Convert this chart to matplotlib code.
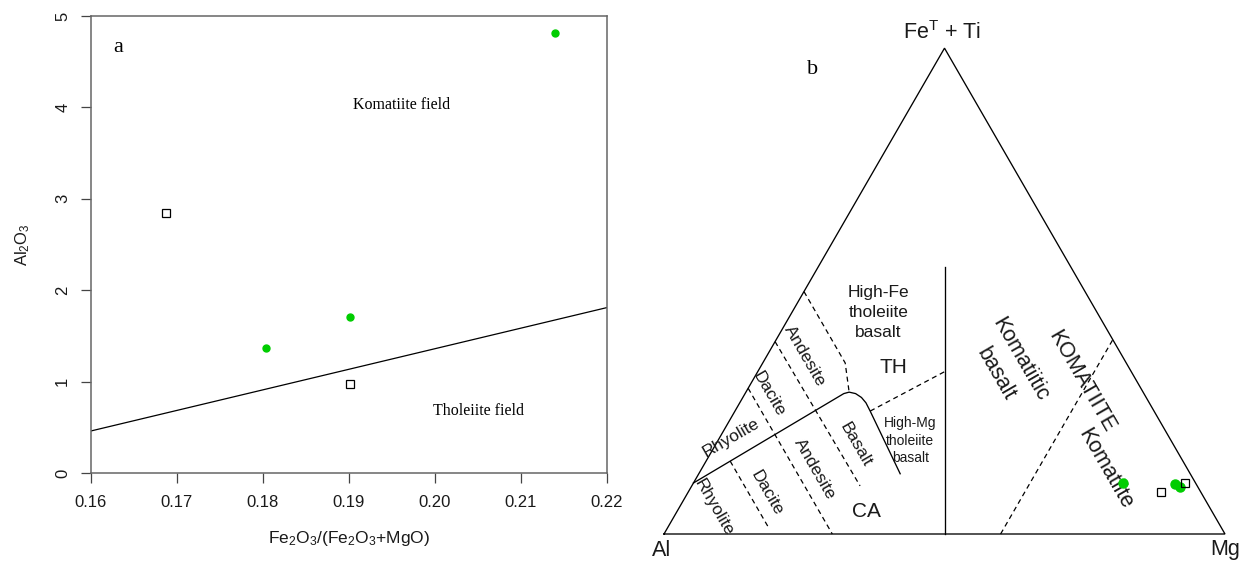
import numpy as np
import matplotlib
matplotlib.use("Agg")
import matplotlib.pyplot as plt

plt.rcParams['font.family'] = ['Liberation Sans', 'DejaVu Sans']
plt.rcParams['mathtext.fontset'] = 'custom'
plt.rcParams['mathtext.rm'] = 'Liberation Sans'
plt.rcParams['mathtext.it'] = 'Liberation Sans:italic'
plt.rcParams['mathtext.bf'] = 'Liberation Sans:bold'

SERIF = ['Liberation Serif', 'DejaVu Serif']
GREEN = '#00CD00'

# ---------------- panel a: Al2O3 vs Fe2O3/(Fe2O3+MgO) ----------------
komatiite_ratio = [0.2140, 0.1804, 0.1901]
komatiite_al2o3 = [4.81, 1.37, 1.71]
basalt_ratio = [0.1687, 0.1901]
basalt_al2o3 = [2.85, 0.97]
divider_ratio = [0.16, 0.22]
divider_al2o3 = [0.46, 1.81]
x_ticks = [0.16, 0.17, 0.18, 0.19, 0.20, 0.21, 0.22]
x_tick_labels = ['0.16', '0.17', '0.18', '0.19', '0.20', '0.21', '0.22']
y_ticks = [0, 1, 2, 3, 4, 5]

# ---------------- panel b: Jensen cation plot, (Al, FeT+Ti, Mg) % ----------------
komatiite_al = [13.0, 3.7, 3.2]
komatiite_fe = [10.5, 10.3, 9.7]
komatiite_mg = [76.5, 86.0, 87.1]
basalt_al = [7.0, 1.9]
basalt_fe = [8.7, 10.5]
basalt_mg = [84.3, 87.6]

# field boundaries as (Al, Fe, Mg) vertices
th_ca_line = [(89.5, 10.5, 0.0), (53.5, 28.9, 17.6), (52.4, 29.2, 18.4),
              (51.4, 28.9, 19.7), (50.75, 28.1, 21.15), (50.5, 27.0, 22.5),
              (50.6, 25.3, 24.1), (51.7, 12.4, 35.9)]
al_mg_line = [(50.0, 0.0, 50.0), (22.5, 55.0, 22.5)]
dashed_lines = [
    [(50.1, 49.9, 0.0), (50.1, 35.2, 14.7), (52.4, 29.2, 18.4)],
    [(60.4, 39.6, 0.0), (60.1, 9.9, 30.0)],
    [(70.0, 30.0, 0.0), (70.0, 0.0, 30.0)],
    [(80.7, 15.0, 4.3), (80.7, 1.0, 18.3)],
    [(50.6, 25.3, 24.1), (33.3, 33.4, 33.3)],
    [(40.0, 0.0, 60.0), (0.0, 40.0, 60.0)],
]

# field names: (text, (Al, Fe, Mg), rotation, size, line spacing)
field_names = [
    ('High-Fe\ntholeiite\nbasalt', (39.0, 45.6, 15.4), 0, 12.5, 1.45),
    ('TH', (41.9, 34.3, 23.8), 0, 15, 1.2),
    ('High-Mg\ntholeiite\nbasalt', (46.5, 19.2, 34.3), 0, 10, 1.3),
    ('CA', (61.5, 4.7, 33.8), 0, 15, 1.2),
    ('Andesite', (56.6, 36.6, 6.8), -60, 12.5, 1.2),
    ('Dacite', (66.9, 28.7, 4.4), -60, 12.5, 1.2),
    ('Rhyolite', (78.3, 19.8, 2.0), 30, 12.5, 1.2),
    ('Basalt', (56.7, 18.4, 24.9), -60, 12.5, 1.2),
    ('Andesite', (66.4, 13.3, 20.3), -60, 12.5, 1.2),
    ('Dacite', (77.4, 8.5, 14.1), -60, 12.5, 1.2),
    ('Rhyolite', (88.4, 5.4, 6.2), -60, 12.5, 1.2),
    ('Komatiitic\nbasalt', (21.4, 34.5, 44.1), -60, 15.5, 1.5),
    ('KOMATIITE', (10.0, 31.3, 58.7), -60, 15.5, 1.2),
    ('Komatiite', (14.6, 13.3, 72.1), -60, 15.5, 1.2),
]


def tern(al, fe, mg):
    al = np.asarray(al, float)
    fe = np.asarray(fe, float)
    mg = np.asarray(mg, float)
    s = al + fe + mg
    return (mg + fe / 2) / s, fe / s * np.sqrt(3) / 2


W, H = 1250, 562
fig = plt.figure(figsize=(W / 100, H / 100), dpi=100)

# ---- panel a ----
ax = fig.add_axes([91 / W, (H - 473) / H, (607 - 91) / W, (473 - 16) / H])
ax.plot(divider_ratio, divider_al2o3, color='black', lw=0.9)
ax.plot(komatiite_ratio, komatiite_al2o3, 'o', color=GREEN, ms=5, mec=GREEN,
        zorder=3)
ax.plot(basalt_ratio, basalt_al2o3, 's', mfc='none', mec='black', ms=5.5,
        mew=0.9, zorder=3)
ax.set_xlim(0.16, 0.22)
ax.set_ylim(0, 5)
ax.set_xticks(x_ticks)
ax.set_xticklabels(x_tick_labels)
ax.set_yticks(y_ticks)
for s in ax.spines.values():
    s.set_color('#666666')
    s.set_linewidth(1.1)
ax.tick_params(direction='out', length=7, width=0.9, color='#444444',
               labelsize=12, labelcolor='#1a1a1a')
ax.tick_params(axis='x', pad=9)
ax.tick_params(axis='y', pad=8)
for lab in ax.get_yticklabels():
    lab.set_rotation(90)
    lab.set_va('center')
ax.set_xlabel(r'Fe$_{\mathrm{2}}$O$_{\mathrm{3}}$/(Fe$_{\mathrm{2}}$O$_{\mathrm{3}}$+MgO)',
              fontsize=12.5, color='#1a1a1a')
ax.xaxis.set_label_coords(0.5, -65 / 457)
ax.xaxis.label.set_va('center')
ax.set_ylabel(r'Al$_{\mathrm{2}}$O$_{\mathrm{3}}$', fontsize=12, color='#1a1a1a')
ax.yaxis.set_label_coords(-68 / 516, 0.5)
ax.yaxis.label.set_va('center')

ax.text(0.1632, 4.655, 'a', family=SERIF, fontsize=16, ha='center', va='center')
ax.text(0.1961, 4.03, 'Komatiite field', family=SERIF, fontsize=11.5,
        ha='center', va='center')
ax.text(0.2051, 0.68, 'Tholeiite field', family=SERIF, fontsize=11.5,
        ha='center', va='center')

# ---- panel b ----
ox, oy, sc = 664, 534, 561
bx0 = 636
bx = fig.add_axes([bx0 / W, 0, (W - bx0) / W, 1])
bx.set_xlim((bx0 - ox) / sc, (W - ox) / sc)
bx.set_ylim(-(H - oy) / sc, oy / sc)
bx.axis('off')

tx, ty = tern([100, 0, 0, 100], [0, 0, 100, 0], [0, 100, 0, 0])
bx.plot(tx, ty, color='black', lw=0.95, solid_joinstyle='miter')

x, y = tern(*zip(*th_ca_line))
bx.plot(x, y, color='black', lw=0.95)
x, y = tern(*zip(*al_mg_line))
bx.plot(x, y, color='black', lw=0.95)
for seg in dashed_lines:
    x, y = tern(*zip(*seg))
    bx.plot(x, y, color='black', lw=0.9, dashes=(4, 3))

for text, (a_, f_, m_), rot, size, ls in field_names:
    x, y = tern(a_, f_, m_)
    bx.text(x, y, text, rotation=rot, fontsize=size, ha='center', va='center',
            ma='center', linespacing=ls, color='#1a1a1a',
            rotation_mode='anchor')

x, y = tern(komatiite_al, komatiite_fe, komatiite_mg)
bx.plot(x, y, 'o', color=GREEN, mec=GREEN, ms=6.5, zorder=3)
x, y = tern(basalt_al, basalt_fe, basalt_mg)
bx.plot(x, y, 's', mfc='none', mec='black', ms=6, mew=0.9, zorder=4)

bx.text((662 - ox) / sc, (oy - 551) / sc, 'Al', fontsize=15.5, ha='center',
        va='center', color='#1a1a1a')
bx.text((1225 - ox) / sc, (oy - 549) / sc, 'Mg', fontsize=15.5, ha='center',
        va='center', color='#1a1a1a')
bx.text((942 - ox) / sc, (oy - 33) / sc, r'Fe$^{\mathrm{T}}$ + Ti', fontsize=15.5,
        ha='center', va='center', color='#1a1a1a')

fig.text(813 / W, 1 - 70 / H, 'b', family=SERIF, fontsize=16, ha='center',
         va='center')

fig.savefig('out.png', dpi=100)
